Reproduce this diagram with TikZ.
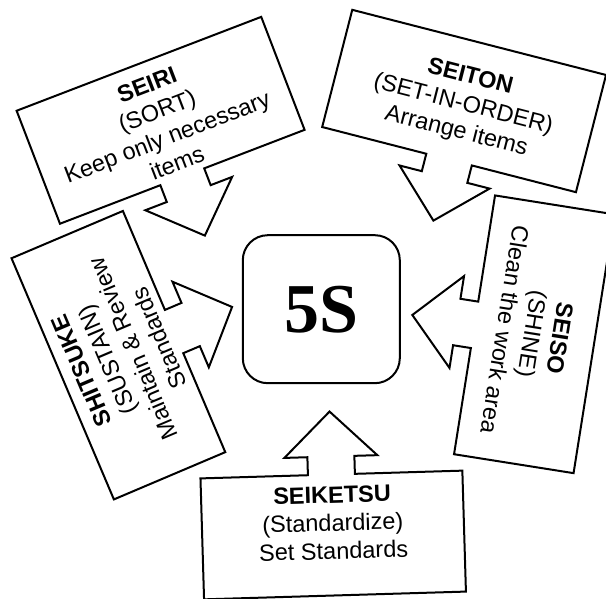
\documentclass[tikz,border=0pt]{standalone}
\usepackage{fontspec}
\setmainfont{Liberation Sans}
\newfontfamily\bigserif{Liberation Serif}
\tikzstyle{box} = [draw=black, fill=white, line width=2pt, line join=miter]
\tikzstyle{boxtext} = [align=center, inner sep=0pt, font=\fontsize{23.5}{28}\selectfont, transform shape]
\tikzstyle{core} = [draw=black, fill=white, line width=2pt, rounded corners=25pt, minimum width=157pt, minimum height=148pt, font=\bigserif\bfseries\fontsize{70}{70}\selectfont]
% callout: name, centre, angle, side (1 = arrow below, -1 = arrow above), text shift, text
\newcommand{\callout}[6]{
	\begin{scope}[shift={#2}, rotate=#3]
		\draw[box, yscale=#4] (-131,60.5) -- (131,60.5) -- (131,-60.5) -- (23.5,-60.5) -- (23.5,-78.5) -- (46.5,-78.5)
			-- (0,-123.5) -- (-46.5,-78.5) -- (-23.5,-78.5) -- (-23.5,-60.5) -- (-131,-60.5) -- cycle;
		\node[boxtext] (#1) at (0,#5) {#6};
	\end{scope}
}

\begin{document}
\begin{tikzpicture}[x=1pt, y=1pt]
			\useasboundingbox (0,0) rectangle (606,598);
			\clip (0,0) rectangle (606,598);
			\callout{seiri}{(160.6,477.7)}{21}{1}{-4}{\textbf{SEIRI}\\(SORT)\\Keep only necessary\\items}
			\callout{seiton}{(464.1,497)}{-14.4}{1}{-4}{\textbf{SEITON}\\(SET-IN-ORDER)\\Arrange items}
			\callout{seiso}{(534.3,263.7)}{-99}{1}{-2}{\textbf{SEISO}\\(SHINE)\\Clean the work area}
			\callout{seiketsu}{(333.2,63)}{1.7}{-1}{12}{\textbf{SEIKETSU}\\(Standardize)\\Set Standards}
			\callout{shitsuke}{(118.4,242.8)}{113}{1}{-2}{\textbf{SHITSUKE}\\(SUSTAIN)\\Maintain \& Review\\Standards}
			\node[core] (fives) at (321.3,288.8) {5S};
		\end{tikzpicture}
\end{document}
